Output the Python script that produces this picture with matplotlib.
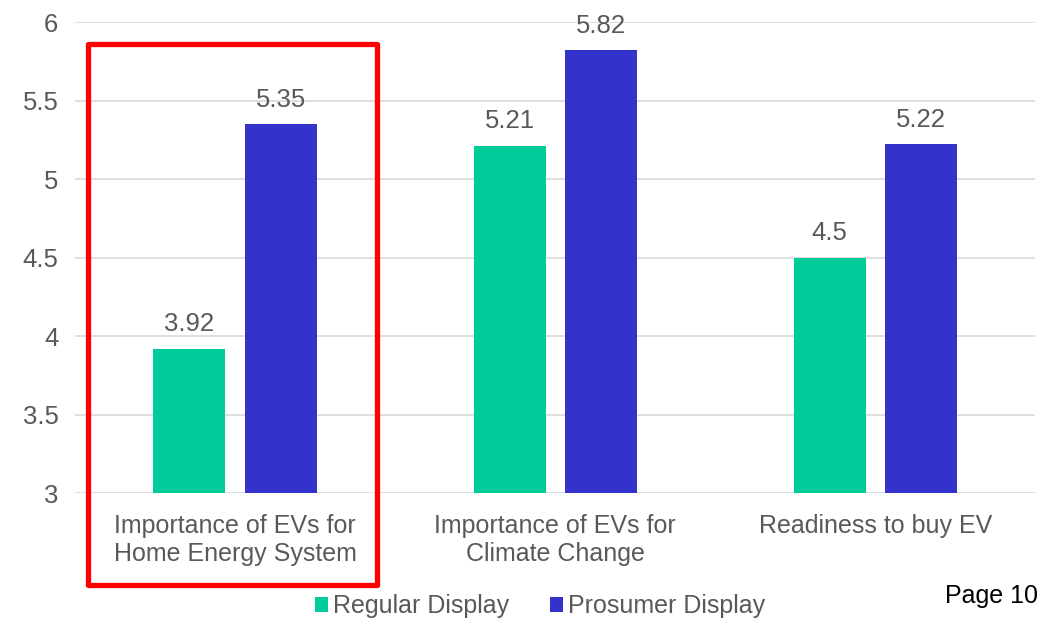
import matplotlib.pyplot as plt
import numpy as np
from matplotlib.patches import Rectangle

plt.rcParams['font.family'] = ['Liberation Sans', 'DejaVu Sans']

categories = ["Importance of EVs for\nHome Energy System",
              "Importance of EVs for\nClimate Change",
              "Readiness to buy EV"]
regular = [3.92, 5.21, 4.5]
prosumer = [5.35, 5.82, 5.22]
series_names = ["Regular Display", "Prosumer Display"]
yticks = [3, 3.5, 4, 4.5, 5, 5.5, 6]
ytick_labels = ["3", "3.5", "4", "4.5", "5", "5.5", "6"]

green = "#00CC99"
blue = "#3333CC"
grey = "#595959"

fig = plt.figure(figsize=(10.38, 6.2), dpi=100)
ax = fig.add_axes([0.0723, 0.2048, 0.925, 0.7597])

x = np.arange(len(categories))
w = 0.225
gap = 0.06
b1 = ax.bar(x - (w + gap) / 2, regular, w, bottom=0, color=green, label=series_names[0], zorder=3)
b2 = ax.bar(x + (w + gap) / 2, prosumer, w, bottom=0, color=blue, label=series_names[1], zorder=3)

for bars, vals in ((b1, regular), (b2, prosumer)):
    for rect, v in zip(bars, vals):
        ax.text(rect.get_x() + rect.get_width() / 2, v + 0.08, f"{v:g}",
                ha="center", va="bottom", fontsize=18.5, color=grey)

ax.set_ylim(3, 6)
ax.set_xlim(-0.5, 2.5)
ax.set_yticks(yticks)
ax.set_yticklabels(ytick_labels)
ax.set_xticks(x)
ax.set_xticklabels(categories, linespacing=1.22)
ax.tick_params(axis="x", length=0, labelsize=18, colors=grey, pad=15)
ax.tick_params(axis="y", length=0, labelsize=18.5, colors=grey, pad=12)
ax.yaxis.grid(True, color="#D9D9D9", linewidth=1.2, zorder=0)
for s in ax.spines.values():
    s.set_visible(False)

# highlight box around the first group
fig.patches.append(Rectangle((88 / 1038, 1 - 585 / 620), 289 / 1038, 541 / 620,
                             transform=fig.transFigure, fill=False,
                             edgecolor="#FF0000", linewidth=3.8, joinstyle="round",
                             zorder=5))

fig.legend(handles=[b1, b2], labels=series_names, loc="center",
           bbox_to_anchor=(540 / 1038, 1 - 606 / 620), ncol=2, frameon=False,
           fontsize=18, labelcolor=grey, handlelength=0.55, handleheight=0.55,
           handletextpad=0.2, columnspacing=1.6, borderaxespad=0)

fig.text(1.0, 1 - 596 / 620, "Page 10", ha="right", va="center", fontsize=18, color="black")

fig.savefig("out.png", dpi=100)
